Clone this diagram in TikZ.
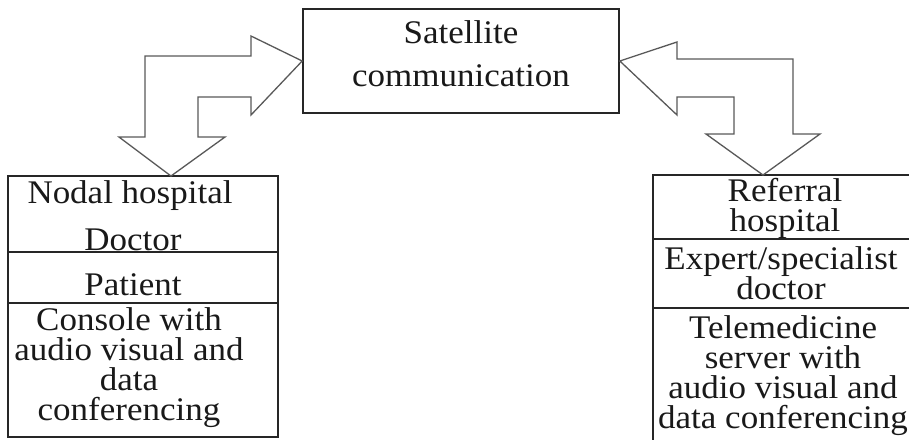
\documentclass[tikz,border=0pt]{standalone}
\usepackage{fontspec}
\setmainfont{Liberation Serif}[FakeStretch=1.06]
\begin{document}
\begin{tikzpicture}[x=1pt,y=-1pt,
  boxline/.style={draw=black!85, line width=1.6pt},
  blockarrow/.style={draw=black!65, line width=1.3pt, fill=white, line join=miter},
  txt/.style={font=\fontsize{33}{30}\selectfont, inner sep=0pt, align=center, text=black!90}]
\useasboundingbox (0,0) rectangle (909,439);
% boxes
\node[boxline, minimum width=316pt, minimum height=104pt, inner sep=0pt] (sat) at (461,61) {};
\node[txt] (satA) at (461,32) {Satellite};
\node[txt] (satB) at (461,76) {communication};
\node[boxline, minimum width=270pt, minimum height=76pt, inner sep=0pt] (l1) at (143,214) {};
\node[boxline, minimum width=270pt, minimum height=51pt, inner sep=0pt] (l2) at (143,277.5) {};
\node[boxline, minimum width=270pt, minimum height=134pt, inner sep=0pt] (l3) at (143,370) {};
\node[txt] (lt1) at (130,196) {Nodal hospital};
\node[txt] (lt2) at (133,240) {Doctor};
\node[txt] (lt3) at (133,285) {Patient};
\node[txt] (lt4) at (129,368) {Console with\\audio visual and\\data\\conferencing};
\node[boxline, minimum width=262pt, minimum height=64pt, inner sep=0pt] (r1) at (784,207) {};
\node[boxline, minimum width=262pt, minimum height=69pt, inner sep=0pt] (r2) at (784,273.5) {};
\node[boxline, minimum width=262pt, minimum height=140pt, inner sep=0pt] (r3) at (784,378) {};
\node[txt] (rt1) at (785,208) {Referral\\hospital};
\node[txt] (rt2) at (781,273) {Expert/specialist\\doctor};
\node[txt] (rt3) at (783,376) {Telemedicine\\server with\\audio visual and\\data conferencing};
% block arrow tips on the boxes
\coordinate (ltip) at (171,176);
\coordinate (rtip) at (763,175);
% block arrows
\draw[blockarrow] (sat.west) -- (251,36) -- (251,56) -- (145,56) -- (145,137) -- (119,137)
  -- (ltip) -- (225,137) -- (198,137) -- (198,97) -- (251,97) -- (251,115) -- cycle;
\draw[blockarrow] (sat.east) -- (677,42) -- (677,59) -- (793,59) -- (793,134) -- (820,134)
  -- (rtip) -- (706,134) -- (734,134) -- (734,97) -- (677,97) -- (677,115) -- cycle;
\end{tikzpicture}
\end{document}
